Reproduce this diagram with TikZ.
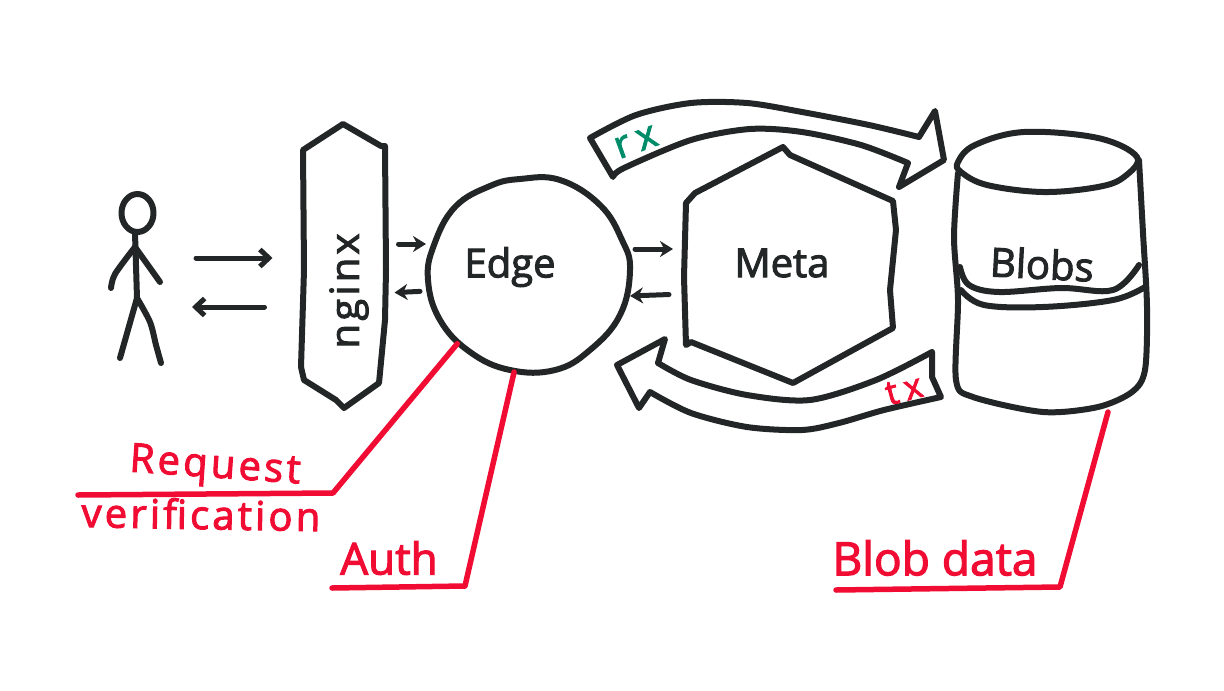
\documentclass[tikz,border=0pt]{standalone}
\usepackage{fontspec}
\usepackage{xcolor}
\usepackage{tikz}
\usetikzlibrary{arrows.meta,calc}
\setmainfont[FakeBold=2.5]{Open Sans}
\newfontfamily\spaced[LetterSpace=8,FakeBold=2.5]{Open Sans}
\newfontfamily\wide[LetterSpace=20,FakeBold=2.5]{Open Sans}
\definecolor{penBlack}{RGB}{35,38,38}
\definecolor{penRed}  {RGB}{240,12,50}
\definecolor{penGreen}{RGB}{0,140,105}
\begin{document}
\begin{tikzpicture}[x=1pt,y=-1pt,
          ink/.style={draw=penBlack,line width=6pt,line join=round,line cap=round},
          flow/.style={penBlack,line width=5pt,line cap=round,-{Straight Barb[length=9pt,width=17pt,line width=5pt]}},
          smallflow/.style={flow,-{Stealth[length=13pt,width=16pt]}},
          callout/.style={penRed,line width=5.5pt,line join=round,line cap=round},
          ghost/.style={inner sep=0pt,outer sep=0pt},
          word/.style={penBlack,inner sep=0pt,font=\fontsize{40}{40}\selectfont},
          redword/.style={penRed,inner sep=0pt,font=\fontsize{40}{40}\spaced}]
          \useasboundingbox (0,0) rectangle (1224,691);
          % anchors for the connectors
          \node[ghost,minimum width=50pt,minimum height=168pt](person) at (136,279){};
          \node[ghost,minimum width=85pt,minimum height=284pt](nginx) at (344,266){};
          \node[ghost,circle,minimum size=200pt](edge) at (528,273){};
          \node[ghost,minimum width=212pt,minimum height=238pt](meta) at (790,264){};
          \node[ghost,minimum width=193pt,minimum height=280pt](blobs) at (1050,272){};
          \coordinate (reqknee) at (333,493);
          \coordinate (reqend) at (78,495);
          \coordinate (authknee) at (465,586);
          \coordinate (authend) at (332,588);
          \coordinate (blobknee) at (1060,587);
          \coordinate (blobend) at (836,590);
          % stick figure
          \draw[ink] (137.5,213) ellipse (16pt and 19pt);
          \draw[ink] (135,233)--(137,298);
          \draw[ink] plot[smooth,tension=.5] coordinates {(111,288) (115,274) (135,247)};
          \draw[ink] (135,247)--(160,282);
          \draw[ink] (137,298)--(120,358);
          \draw[ink] plot[smooth,tension=.5] coordinates {(137,298) (150,322) (156,345) (161,363)};
          % nginx
          \draw[ink] (343,124)--(381,146)--(385,146)--(386,270)--(385,320)--(379,383)--(344,408)
            --(336,400)--(304,380)--(301,367)--(304,270)--(303,150)--cycle;
          % edge
          \draw[ink] plot[smooth cycle,tension=.7] coordinates {(428,280) (434,245) (455,207) (490,186)
            (520,179) (560,180) (600,205) (622,240) (630,270) (620,315) (590,350) (555,370)
            (510,370) (470,352) (440,320)};
          % meta
          \draw[ink] (783,147)--(790,155)--(893,201)--(896,230)--(890,290)--(893,328)--(793,383)
            --(691,342)--(686,345)--(684,277)--(686,203)--(695,193)--cycle;
          % rx band
          \draw[ink] plot[smooth,tension=.5] coordinates {(590,138) (636,115) (691,103) (747,103)
            (802,112) (869,125) (919,137)}
            --(935,111)--(944,160)--(899,187)--(908,163)
            -- plot[smooth,tension=.5] coordinates {(908,163) (861,145) (802,132) (750,129)
            (691,140) (624,168) (613,177)}--cycle;
          % tx band
          \draw[ink] (932,352)--(932,377)--(941,397)
            -- plot[smooth,tension=.5] coordinates {(941,397) (884,410) (839,423) (802,430) (747,427)
            (691,413) (650,392)}
            --(639,408)--(617,365)--(665,339)--(658,363)
            -- plot[smooth,tension=.5] coordinates {(658,363) (691,380) (747,395) (810,400) (876,380) (932,352)};
          % blobs
          \draw[ink] plot[smooth cycle,tension=.6] coordinates {(958,162) (975,145) (1024,132) (1098,138)
            (1137,157) (1124,177) (1098,187) (1043,192) (987,185) (961,172)};
          \draw[ink] plot[smooth,tension=.5] coordinates {(958,173) (954,237) (958,300) (956,380) (973,397)
            (1043,412) (1098,407) (1132,392) (1145,370) (1147,307) (1143,233) (1139,160)};
          \draw[ink] plot[smooth,tension=.6] coordinates {(960,267) (969,285) (999,292) (1061,288) (1113,290) (1139,265)};
          \draw[ink] plot[smooth,tension=.6] coordinates {(961,290) (984,305) (1043,307) (1113,300) (1145,287)};
          % labels
          \node[word,rotate=90](nginxlabel) at (349,291){\spaced nginx};
          \node[word](edgelabel) at (510,267){Edge};
          \node[word](metalabel) at (782,263){Meta};
          \node[word,rotate=-3](blobslabel) at (1042,264){Blobs};
          \node[penGreen,inner sep=0pt,rotate=20,font=\fontsize{38}{38}\wide](rxlabel) at (636,142){rx};
          \node[penRed,inner sep=0pt,rotate=15,font=\fontsize{34}{34}\wide](txlabel) at (904,390){tx};
          \node[redword,rotate=-4](requestlabel) at (215,468){Request};
          \node[redword,rotate=-1](verificationlabel) at (201,514){verification};
          \node[redword,font=\fontsize{44}{44}\selectfont](authlabel) at (389,558){Auth};
          \node[redword,font=\fontsize{46}{46}\selectfont](bloblabel) at (935,558){Blob data};
          % connectors
          \draw[flow,shorten <=35pt,shorten >=29pt] ([yshift=21pt]person.east)--([yshift=8pt]nginx.west);
          \draw[flow,shorten <=37pt,shorten >=31pt] ([yshift=-41pt]nginx.west)--([yshift=-28pt]person.east);
          \draw[smallflow,shorten <=12pt,shorten >=2pt] ([yshift=22pt]nginx.east)--([yshift=29pt]edge.west);
          \draw[smallflow,shorten <=8pt,shorten >=8pt] ([yshift=-18pt]edge.west)--([yshift=-27pt]nginx.east);
          \draw[smallflow,shorten <=7pt,shorten >=11pt] ([yshift=24pt]edge.east)--([yshift=15pt]meta.west);
          \draw[smallflow,shorten <=15pt,shorten >=2pt] ([yshift=-30pt]meta.west)--([yshift=-23pt]edge.east);
          \draw[callout] (edge.225)--(reqknee)--(reqend);
          \draw[callout] (edge.262)--(authknee)--(authend);
          \draw[callout] ([xshift=58pt]blobs.south)--(blobknee)--(blobend);
        \end{tikzpicture}
\end{document}
